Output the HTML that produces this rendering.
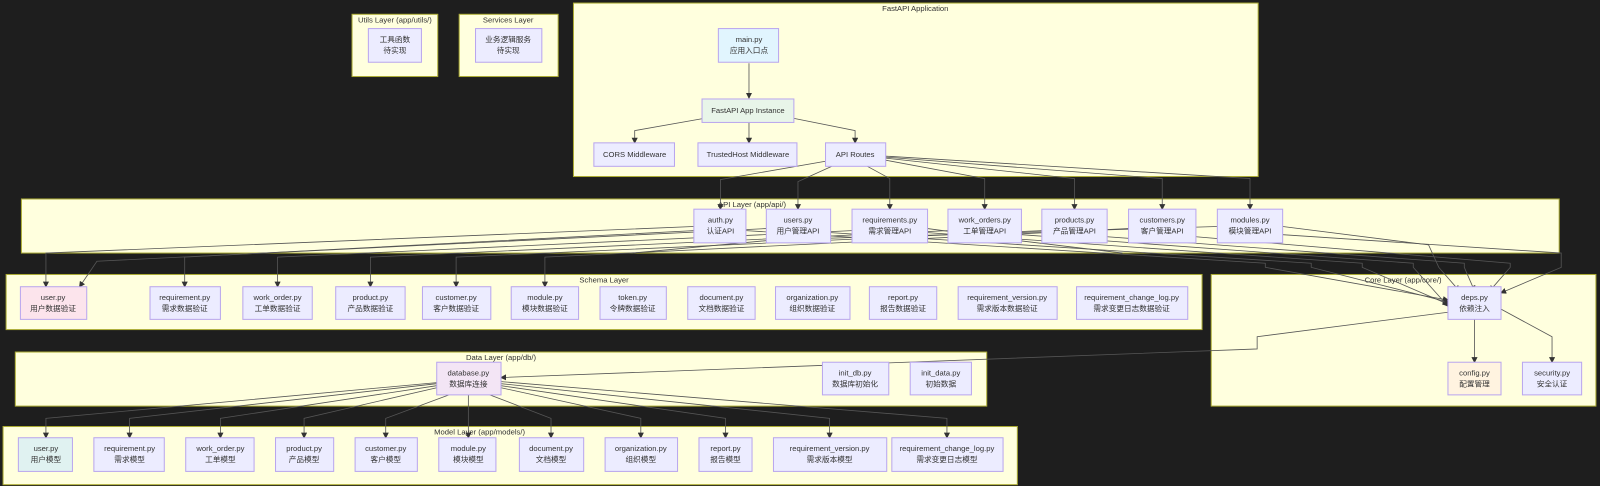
<!DOCTYPE html>
<html><head><meta charset="utf-8"><style>
html,body{margin:0;padding:0;background:#1e1e1e;}
svg{display:block;font-family:"Liberation Sans","Noto Sans CJK SC",sans-serif;}
.c{fill:#ffffde;stroke:#aaaa33;stroke-width:1;}
.n{fill:#ececff;stroke:#b9a6ee;stroke-width:1;}
.t{font-size:7.5px;fill:#333;text-anchor:middle;}
.ct{font-size:7.5px;fill:#333;text-anchor:middle;}
.e{fill:none;stroke:#555;stroke-width:0.8;marker-end:url(#a);}
.f{fill:none;stroke:#555;stroke-width:0.8;}
</style></head><body>
<svg width="1600" height="486" viewBox="0 0 1568 476.3" preserveAspectRatio="none" xmlns="http://www.w3.org/2000/svg">
<defs><marker id="a" markerWidth="6" markerHeight="6" refX="5" refY="3" orient="auto" markerUnits="userSpaceOnUse"><path d="M0,0 L6,3 L0,6 z" fill="#333"/></marker></defs>
<rect width="1568" height="477" fill="#1e1e1e"/>

<rect class="c" x="345" y="14" width="84" height="61"/><text class="ct" x="387" y="22">Utils Layer (app/utils/)</text>
<rect class="c" x="450" y="14" width="97" height="61"/><text class="ct" x="498" y="22">Services Layer</text>
<rect class="c" x="562" y="3" width="671" height="170"/><text class="ct" x="897" y="11">FastAPI Application</text>
<rect class="c" x="21" y="195" width="1507" height="53"/><text class="ct" x="737" y="203">API Layer (app/api/)</text>
<rect class="c" x="6" y="269" width="1172" height="54"/><text class="ct" x="592" y="277">Schema Layer</text>
<rect class="c" x="1187" y="269" width="377" height="129"/><text class="ct" x="1375" y="277">Core Layer (app/core/)</text>
<rect class="c" x="15" y="345" width="952" height="53"/><text class="ct" x="491" y="353">Data Layer (app/db/)</text>
<rect class="c" x="3" y="418" width="994" height="57"/><text class="ct" x="470" y="426">Model Layer (app/models/)</text>

<polyline class="e" points="734,62 734,96"/>
<polyline class="e" points="690,116 622,128 622,140"/>
<polyline class="e" points="734,120 734,140"/>
<polyline class="e" points="778,116 838,128 838,140"/>
<polyline class="e" points="809,158 706,176 706,205"/>
<polyline class="e" points="815,163 782,178 782,205"/>
<polyline class="e" points="850,163 872,175 872,205"/>
<polyline class="e" points="868,157 965,175 965,205"/>
<polyline class="e" points="868,155 1053,175 1053,205"/>
<polyline class="e" points="868,154 1139,175 1139,205"/>
<polyline class="e" points="868,153 1225,175 1225,205"/>

<polyline class="e" points="680,222 45,248 45,281"/>
<polyline class="e" points="751,224 95,256 78,281"/>
<polyline class="e" points="680,226 181,252 181,281"/>
<polyline class="e" points="835,226 272,252 272,281"/>
<polyline class="e" points="929,226 363,252 363,281"/>
<polyline class="e" points="1021,226 447,252 447,281"/>
<polyline class="e" points="1106,224 534,252 534,281"/>
<polyline class="f" points="1193,222 760,235 620,248"/>
<polyline class="f" points="909,224 1000,236 1100,248"/>
<polyline class="e" points="731,226 1240,258 1240,262 1419,294"/>
<polyline class="e" points="814,228 1285,258 1285,262 1419,296"/>
<polyline class="e" points="909,228 1335,258 1335,262 1419,298"/>
<polyline class="e" points="1001,230 1385,258 1385,262 1419,300"/>
<polyline class="e" points="1085,232 1435,258 1435,262 1445,285"/>
<polyline class="e" points="1172,232 1480,258 1480,262 1460,285"/>
<polyline class="e" points="1257,230 1530,248 1530,262 1471,287"/>
<polyline class="e" points="1257,222 1400,240 1410,262 1430,285"/>
<polyline class="e" points="1445,313 1445,355"/>
<polyline class="e" points="1471,303 1521,330 1521,355"/>
<polyline class="e" points="1419,306 1232,330 1232,342 491,370"/>
<polyline class="e" points="428,375 45,410 45,429"/>
<polyline class="e" points="428,376 127,410 127,429"/>
<polyline class="e" points="428,378 216,410 216,429"/>
<polyline class="e" points="428,380 298,410 298,429"/>
<polyline class="e" points="440,387 378,410 378,429"/>
<polyline class="e" points="459,387 459,429"/>
<polyline class="e" points="480,387 540,410 540,429"/>
<polyline class="e" points="491,380 628,410 628,429"/>
<polyline class="e" points="491,378 711,410 711,429"/>
<polyline class="e" points="491,376 813,410 813,429"/>
<polyline class="e" points="491,374 928,410 928,429"/>

<g>
<rect class="n" x="361" y="28" width="52" height="33"/><text class="t" x="387" y="41">工具函数</text><text class="t" x="387" y="52">待实现</text>
<rect class="n" x="466" y="28" width="65" height="33"/><text class="t" x="498" y="41">业务逻辑服务</text><text class="t" x="498" y="52">待实现</text>
<rect class="n" x="704" y="28" width="59" height="33" style="fill:#e1f5fe"/><text class="t" x="734" y="41">main.py</text><text class="t" x="734" y="52">应用入口点</text>
<rect class="n" x="688" y="97" width="90" height="23" style="fill:#e8f5e9"/><text class="t" x="733" y="111">FastAPI App Instance</text>
<rect class="n" x="582" y="140" width="79" height="23"/><text class="t" x="622" y="154">CORS Middleware</text>
<rect class="n" x="684" y="140" width="97" height="23"/><text class="t" x="733" y="154">TrustedHost Middleware</text>
<rect class="n" x="809" y="140" width="59" height="23"/><text class="t" x="838" y="154">API Routes</text>

<rect class="n" x="680" y="205" width="51" height="33"/><text class="t" x="706" y="218">auth.py</text><text class="t" x="706" y="229">认证API</text>
<rect class="n" x="751" y="205" width="63" height="33"/><text class="t" x="782" y="218">users.py</text><text class="t" x="782" y="229">用户管理API</text>
<rect class="n" x="835" y="205" width="74" height="33"/><text class="t" x="872" y="218">requirements.py</text><text class="t" x="872" y="229">需求管理API</text>
<rect class="n" x="929" y="205" width="72" height="33"/><text class="t" x="965" y="218">work_orders.py</text><text class="t" x="965" y="229">工单管理API</text>
<rect class="n" x="1021" y="205" width="64" height="33"/><text class="t" x="1053" y="218">products.py</text><text class="t" x="1053" y="229">产品管理API</text>
<rect class="n" x="1106" y="205" width="66" height="33"/><text class="t" x="1139" y="218">customers.py</text><text class="t" x="1139" y="229">客户管理API</text>
<rect class="n" x="1193" y="205" width="64" height="33"/><text class="t" x="1225" y="218">modules.py</text><text class="t" x="1225" y="229">模块管理API</text>

<rect class="n" x="20" y="281" width="65" height="32" style="fill:#fce4ec"/><text class="t" x="52" y="294">user.py</text><text class="t" x="52" y="305">用户数据验证</text>
<rect class="n" x="147" y="281" width="69" height="32"/><text class="t" x="181" y="294">requirement.py</text><text class="t" x="181" y="305">需求数据验证</text>
<rect class="n" x="238" y="281" width="68" height="32"/><text class="t" x="272" y="294">work_order.py</text><text class="t" x="272" y="305">工单数据验证</text>
<rect class="n" x="329" y="281" width="68" height="32"/><text class="t" x="363" y="294">product.py</text><text class="t" x="363" y="305">产品数据验证</text>
<rect class="n" x="414" y="281" width="67" height="32"/><text class="t" x="447" y="294">customer.py</text><text class="t" x="447" y="305">客户数据验证</text>
<rect class="n" x="501" y="281" width="66" height="32"/><text class="t" x="534" y="294">module.py</text><text class="t" x="534" y="305">模块数据验证</text>
<rect class="n" x="588" y="281" width="65" height="32"/><text class="t" x="620" y="294">token.py</text><text class="t" x="620" y="305">令牌数据验证</text>
<rect class="n" x="674" y="281" width="66" height="32"/><text class="t" x="707" y="294">document.py</text><text class="t" x="707" y="305">文档数据验证</text>
<rect class="n" x="760" y="281" width="73" height="32"/><text class="t" x="796" y="294">organization.py</text><text class="t" x="796" y="305">组织数据验证</text>
<rect class="n" x="852" y="281" width="66" height="32"/><text class="t" x="885" y="294">report.py</text><text class="t" x="885" y="305">报告数据验证</text>
<rect class="n" x="939" y="281" width="97" height="32"/><text class="t" x="987" y="294">requirement_version.py</text><text class="t" x="987" y="305">需求版本数据验证</text>
<rect class="n" x="1055" y="281" width="109" height="32"/><text class="t" x="1109" y="294">requirement_change_log.py</text><text class="t" x="1109" y="305">需求变更日志数据验证</text>

<rect class="n" x="1419" y="281" width="52" height="32"/><text class="t" x="1445" y="294">deps.py</text><text class="t" x="1445" y="305">依赖注入</text>
<rect class="n" x="1419" y="355" width="52" height="32" style="fill:#fff3e0"/><text class="t" x="1445" y="368">config.py</text><text class="t" x="1445" y="379">配置管理</text>
<rect class="n" x="1492" y="355" width="58" height="32"/><text class="t" x="1521" y="368">security.py</text><text class="t" x="1521" y="379">安全认证</text>

<rect class="n" x="428" y="355" width="63" height="32" style="fill:#f3e5f5"/><text class="t" x="459" y="368">database.py</text><text class="t" x="459" y="379">数据库连接</text>
<rect class="n" x="806" y="355" width="65" height="32"/><text class="t" x="838" y="368">init_db.py</text><text class="t" x="838" y="379">数据库初始化</text>
<rect class="n" x="892" y="355" width="60" height="32"/><text class="t" x="922" y="368">init_data.py</text><text class="t" x="922" y="379">初始数据</text>

<rect class="n" x="18" y="429" width="53" height="33" style="fill:#e0f2f1"/><text class="t" x="45" y="442">user.py</text><text class="t" x="45" y="453">用户模型</text>
<rect class="n" x="92" y="429" width="69" height="33"/><text class="t" x="127" y="442">requirement.py</text><text class="t" x="127" y="453">需求模型</text>
<rect class="n" x="182" y="429" width="67" height="33"/><text class="t" x="216" y="442">work_order.py</text><text class="t" x="216" y="453">工单模型</text>
<rect class="n" x="270" y="429" width="57" height="33"/><text class="t" x="298" y="442">product.py</text><text class="t" x="298" y="453">产品模型</text>
<rect class="n" x="348" y="429" width="61" height="33"/><text class="t" x="378" y="442">customer.py</text><text class="t" x="378" y="453">客户模型</text>
<rect class="n" x="430" y="429" width="56" height="33"/><text class="t" x="459" y="442">module.py</text><text class="t" x="459" y="453">模块模型</text>
<rect class="n" x="509" y="429" width="63" height="33"/><text class="t" x="540" y="442">document.py</text><text class="t" x="540" y="453">文档模型</text>
<rect class="n" x="593" y="429" width="71" height="33"/><text class="t" x="628" y="442">organization.py</text><text class="t" x="628" y="453">组织模型</text>
<rect class="n" x="685" y="429" width="52" height="33"/><text class="t" x="711" y="442">report.py</text><text class="t" x="711" y="453">报告模型</text>
<rect class="n" x="758" y="429" width="111" height="33"/><text class="t" x="813" y="442">requirement_version.py</text><text class="t" x="813" y="453">需求版本模型</text>
<rect class="n" x="874" y="429" width="109" height="33"/><text class="t" x="928" y="442">requirement_change_log.py</text><text class="t" x="928" y="453">需求变更日志模型</text>
</g>
</svg>
</body></html>
